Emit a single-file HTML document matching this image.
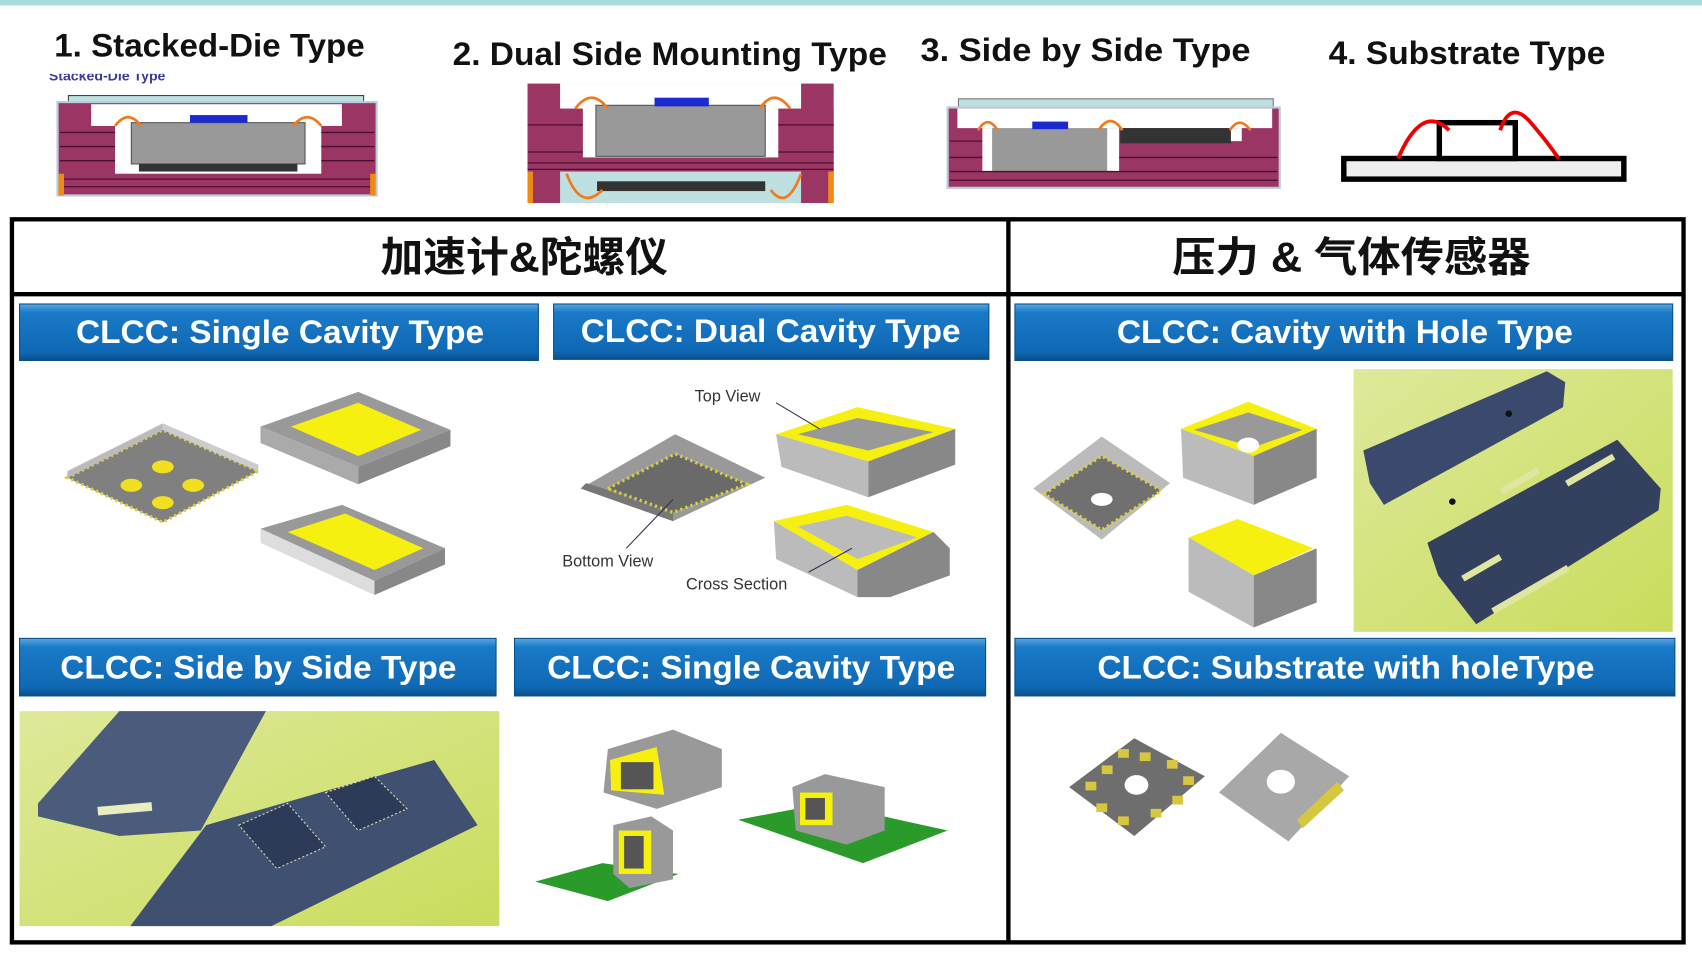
<!DOCTYPE html>
<html><head><meta charset="utf-8"><style>
html,body{margin:0;padding:0;background:#fff;}
svg{display:block;}
text{font-family:"Liberation Sans","Noto Sans CJK SC",sans-serif;}
</style></head><body>
<svg width="1702" height="963" viewBox="0 0 1568 887" preserveAspectRatio="none" xmlns="http://www.w3.org/2000/svg">
<defs>
<linearGradient id="bb" x1="0" y1="0" x2="0" y2="1">
<stop offset="0" stop-color="#5aa8e0"/><stop offset="0.15" stop-color="#1a7ac8"/><stop offset="0.85" stop-color="#0f68b4"/><stop offset="1" stop-color="#0a4f8c"/></linearGradient>
<linearGradient id="photo" x1="0" y1="0" x2="1" y2="1"><stop offset="0" stop-color="#dfe99a"/><stop offset="1" stop-color="#c9dc5c"/></linearGradient>
</defs>
<rect x="0" y="0" width="1568" height="5" fill="#a9dcd8"/>
<!-- titles -->
<g font-weight="bold" font-size="30" fill="#111">
<text x="50" y="52" textLength="286" lengthAdjust="spacingAndGlyphs">1. Stacked-Die Type</text>
<text x="417" y="60" textLength="400" lengthAdjust="spacingAndGlyphs">2. Dual Side Mounting Type</text>
<text x="848" y="56" textLength="304" lengthAdjust="spacingAndGlyphs">3. Side by Side  Type</text>
<text x="1224" y="59" textLength="255" lengthAdjust="spacingAndGlyphs">4. Substrate Type</text>
</g>
<text x="45" y="74" font-size="13" font-weight="bold" fill="#3a3a9a">Stacked-Die Type</text>
<rect x="40" y="62" width="160" height="6" fill="#fff"/>
<!-- schematic 1 -->
<g>
<rect x="63" y="88" width="272" height="6" fill="#bfe0e0" stroke="#444" stroke-width="1"/>
<rect x="53" y="94" width="294" height="86" fill="#9a3564" stroke="#bcd" stroke-width="2"/>
<rect x="84" y="96" width="231" height="20" fill="#fff"/>
<rect x="106" y="114" width="190" height="46" fill="#fff"/>
<g stroke="#4a1030" stroke-width="1.2"><line x1="55" y1="122" x2="106" y2="122"/><line x1="296" y1="122" x2="345" y2="122"/><line x1="55" y1="135" x2="106" y2="135"/><line x1="296" y1="135" x2="345" y2="135"/><line x1="55" y1="148" x2="106" y2="148"/><line x1="296" y1="148" x2="345" y2="148"/><line x1="55" y1="165" x2="345" y2="165"/><line x1="55" y1="172" x2="345" y2="172"/></g>
<rect x="121" y="113" width="160" height="38" fill="#999" stroke="#555"/>
<rect x="128" y="151" width="146" height="7" fill="#333"/>
<rect x="175" y="106" width="53" height="7" fill="#1a2ad0"/>
<rect x="54" y="160" width="5" height="20" fill="#f08a10"/><rect x="341" y="160" width="5" height="20" fill="#f08a10"/>
<path d="M106 116 Q118 100 130 116 M270 116 Q283 100 296 116" stroke="#f07a20" stroke-width="2.5" fill="none"/>
</g>
<!-- schematic 2 -->
<g>
<rect x="486" y="77" width="282" height="110" fill="#bfe0e0"/>
<rect x="510" y="77" width="234" height="25" fill="#fff"/>
<rect x="486" y="77" width="30" height="110" fill="#9a3564"/>
<rect x="738" y="77" width="30" height="110" fill="#9a3564"/>
<rect x="486" y="100" width="282" height="58" fill="#9a3564"/>
<rect x="537" y="95" width="180" height="50" fill="#fff"/>
<rect x="549" y="97" width="156" height="47" fill="#999" stroke="#555"/>
<rect x="603" y="90" width="50" height="8" fill="#1a2ad0"/>
<rect x="550" y="167" width="155" height="9" fill="#333"/>
<g stroke="#4a1030" stroke-width="1.2"><line x1="486" y1="115" x2="537" y2="115"/><line x1="717" y1="115" x2="768" y2="115"/><line x1="486" y1="140" x2="537" y2="140"/><line x1="717" y1="140" x2="768" y2="140"/><line x1="486" y1="150" x2="768" y2="150"/><line x1="486" y1="156" x2="768" y2="156"/></g>
<rect x="486" y="158" width="5" height="29" fill="#f08a10"/><rect x="763" y="158" width="5" height="29" fill="#f08a10"/>
<path d="M530 100 Q545 80 560 100 M700 100 Q713 80 728 100 M522 160 Q535 195 555 175 M710 175 Q725 195 738 160" stroke="#f07a20" stroke-width="2.5" fill="none"/>
</g>
<!-- schematic 3 -->
<g>
<rect x="883" y="91" width="290" height="8" fill="#bfe0e0" stroke="#777"/>
<rect x="873" y="99" width="306" height="74" fill="#9a3564" stroke="#bcd" stroke-width="2"/>
<rect x="882" y="100" width="290" height="18" fill="#fff"/>
<rect x="905" y="118" width="126" height="40" fill="#fff"/>
<rect x="914" y="118" width="106" height="40" fill="#999"/>
<rect x="1032" y="118" width="102" height="14" fill="#333"/>
<rect x="1134" y="118" width="10" height="12" fill="#fff"/>
<rect x="951" y="112" width="33" height="7" fill="#1a2ad0"/>
<g stroke="#4a1030" stroke-width="1.2"><line x1="875" y1="130" x2="905" y2="130"/><line x1="875" y1="145" x2="905" y2="145"/><line x1="1031" y1="145" x2="1177" y2="145"/><line x1="875" y1="158" x2="1177" y2="158"/><line x1="875" y1="166" x2="1177" y2="166"/></g>
<path d="M901 120 Q910 105 919 120 M1012 120 Q1023 103 1034 120 M1133 120 Q1142 106 1152 120" stroke="#f07a20" stroke-width="2.5" fill="none"/>
</g>
<!-- schematic 4 -->
<g>
<rect x="1238" y="146" width="258" height="19" fill="#eee" stroke="#000" stroke-width="5"/>
<rect x="1326" y="113" width="70" height="33" fill="#fff" stroke="#000" stroke-width="5"/>
<path d="M1288 146 Q1310 95 1335 120 M1382 120 Q1392 90 1412 115 Q1425 130 1436 146" stroke="#e00" stroke-width="3.5" fill="none"/>
</g>
<!-- table frame -->
<rect x="11" y="202" width="1540" height="666" fill="none" stroke="#000" stroke-width="4"/>
<line x1="929" y1="202" x2="929" y2="868" stroke="#000" stroke-width="4"/>
<line x1="11" y1="271" x2="1551" y2="271" stroke="#000" stroke-width="4"/>
<text x="483" y="250" font-size="38" text-anchor="middle" fill="#111" font-weight="bold" textLength="265" lengthAdjust="spacingAndGlyphs">加速计&amp;陀螺仪</text>
<text x="1245" y="250" font-size="38" text-anchor="middle" fill="#111" font-weight="bold" textLength="330" lengthAdjust="spacingAndGlyphs">压力 &amp; 气体传感器</text>
<!-- blue bars -->
<g fill="url(#bb)" stroke="#0a4f8c" stroke-width="1">
<rect x="18" y="280" width="478" height="52"/>
<rect x="510" y="280" width="401" height="51"/>
<rect x="935" y="280" width="606" height="52"/>
<rect x="18" y="588" width="439" height="53"/>
<rect x="474" y="588" width="434" height="53"/>
<rect x="935" y="588" width="608" height="53"/>
</g>
<g font-weight="bold" font-size="30" fill="#fff" text-anchor="middle">
<text x="258" y="316" textLength="376" lengthAdjust="spacingAndGlyphs">CLCC: Single Cavity Type</text>
<text x="710" y="315" textLength="350" lengthAdjust="spacingAndGlyphs">CLCC: Dual Cavity Type</text>
<text x="1239" y="316" textLength="420" lengthAdjust="spacingAndGlyphs">CLCC: Cavity with Hole Type</text>
<text x="238" y="625" textLength="365" lengthAdjust="spacingAndGlyphs">CLCC: Side by Side Type</text>
<text x="692" y="625" textLength="376" lengthAdjust="spacingAndGlyphs">CLCC: Single Cavity Type</text>
<text x="1240" y="625" textLength="458" lengthAdjust="spacingAndGlyphs">CLCC: Substrate with holeType</text>
</g>
<!-- single cavity packages -->
<g>
<polygon points="62,440 150,396 238,434 150,481" fill="#808080" stroke="#e0d040" stroke-width="3" stroke-dasharray="2 3"/>
<polygon points="62,440 150,396 150,390 62,434" fill="#bbb"/>
<polygon points="150,396 238,434 238,428 150,390" fill="#ccc"/>
<ellipse cx="150" cy="430" rx="10" ry="6" fill="#f0e020"/><ellipse cx="121" cy="447" rx="10" ry="6" fill="#f0e020"/><ellipse cx="178" cy="447" rx="10" ry="6" fill="#f0e020"/><ellipse cx="150" cy="463" rx="10" ry="6" fill="#f0e020"/>
<polygon points="240,393 330,361 415,396 330,430" fill="#999"/>
<polygon points="240,393 330,430 330,446 240,408" fill="#aaa"/>
<polygon points="330,430 415,396 415,411 330,446" fill="#888"/>
<polygon points="268,393 330,371 388,396 330,420" fill="#f5f010"/>
<polygon points="240,487 315,465 410,505 345,535" fill="#999"/>
<polygon points="240,487 345,535 345,548 240,500" fill="#ddd"/>
<polygon points="345,535 410,505 410,520 345,548" fill="#888"/>
<polygon points="265,490 318,473 390,505 345,525" fill="#f5f010"/>
</g>
<!-- dual cavity -->
<g>
<polygon points="535,450 622,400 705,440 620,480" fill="#999"/>
<polygon points="535,450 620,480 620,470 540,445" fill="#777"/>
<polygon points="560,450 622,418 688,446 620,472" fill="#6a6a6a" stroke="#e0d040" stroke-width="3" stroke-dasharray="2 3"/>
<polygon points="715,400 790,375 880,395 800,425" fill="#f5f010"/>
<polygon points="735,400 790,385 860,398 800,415" fill="#999"/>
<polygon points="715,400 800,425 800,458 720,430" fill="#bbb"/>
<polygon points="800,425 880,395 880,428 800,458" fill="#888"/>
<polygon points="713,480 780,465 860,490 790,525" fill="#f5f010"/>
<polygon points="735,485 780,475 845,495 790,515" fill="#bbb"/>
<polygon points="713,480 790,525 790,550 715,515" fill="#bbb"/>
<polygon points="790,525 860,490 875,505 875,530 820,550 790,550" fill="#888"/>
<g font-size="15" fill="#333" font-family="Liberation Sans"><text x="640" y="370">Top  View</text><text x="518" y="522">Bottom  View</text><text x="632" y="543">Cross  Section</text></g>
<g stroke="#335" stroke-width="1"><line x1="715" y1="371" x2="755" y2="395"/><line x1="577" y1="505" x2="620" y2="460"/><line x1="745" y1="527" x2="785" y2="505"/></g>
</g>
<!-- cavity with hole -->
<g>
<polygon points="952,450 1015,402 1078,445 1015,497" fill="#bbb"/>
<polygon points="962,455 1015,420 1070,452 1015,488" fill="#707070" stroke="#e0d040" stroke-width="3" stroke-dasharray="2 3"/>
<ellipse cx="1015" cy="460" rx="10" ry="6" fill="#fff"/>
<polygon points="1088,395 1150,370 1213,395 1155,420" fill="#f5f010"/>
<polygon points="1100,396 1150,380 1200,396 1155,412" fill="#999"/>
<ellipse cx="1150" cy="410" rx="10" ry="7" fill="#fff"/>
<polygon points="1088,395 1155,420 1155,465 1090,440" fill="#bbb"/>
<polygon points="1155,420 1213,395 1213,440 1155,465" fill="#888"/>
<polygon points="1095,495 1140,478 1210,505 1155,530" fill="#f5f010"/>
<polygon points="1095,495 1155,530 1155,578 1095,545" fill="#bbb"/>
<polygon points="1155,530 1213,505 1213,555 1155,578" fill="#888"/>
<rect x="1247" y="340" width="294" height="242" fill="url(#photo)"/>
<polygon points="1256,415 1425,342 1442,352 1440,375 1275,465 1262,445" fill="#3b4a6c"/>
<polygon points="1315,500 1490,405 1530,450 1528,470 1360,575 1325,530" fill="#33415f"/>
<g fill="#e0e6a0"><rect x="1380" y="440" width="40" height="6" transform="rotate(-30 1400 443)"/><rect x="1440" y="430" width="50" height="6" transform="rotate(-30 1465 433)"/><rect x="1370" y="540" width="80" height="6" transform="rotate(-30 1410 543)"/><rect x="1345" y="520" width="40" height="6" transform="rotate(-30 1365 523)"/></g>
<circle cx="1338" cy="462" r="3" fill="#111"/><circle cx="1390" cy="381" r="3" fill="#111"/>
</g>
<!-- side by side photo -->
<g>
<rect x="18" y="655" width="442" height="198" fill="url(#photo)"/>
<polygon points="120,853 190,760 400,700 440,760 250,853" fill="#3f5070"/>
<polygon points="35,740 110,655 245,655 185,765 110,770 35,752" fill="#4a5b7c"/>
<rect x="90" y="741" width="50" height="8" fill="#e8eec0" transform="rotate(-5 115 745)"/>
<polygon points="220,760 265,740 300,780 255,800" fill="#2e3b58" stroke="#d8dcb0" stroke-dasharray="2 2"/>
<polygon points="300,730 345,715 375,745 330,765" fill="#2e3b58" stroke="#d8dcb0" stroke-dasharray="2 2"/>
</g>
<!-- single cavity 3d -->
<g>
<polygon points="493,812 555,795 625,805 560,830" fill="#2a9a2a"/>
<polygon points="680,755 760,740 873,765 795,795" fill="#2a9a2a"/>
<polygon points="565,760 600,752 620,765 620,810 580,818 565,805" fill="#999"/>
<rect x="570" y="765" width="30" height="40" fill="#f5f010"/>
<rect x="575" y="770" width="18" height="30" fill="#555"/>
<polygon points="560,690 620,672 665,690 665,725 605,745 556,730" fill="#999"/>
<polygon points="562,700 605,688 612,732 563,728" fill="#f5f010"/>
<rect x="572" y="702" width="30" height="25" fill="#555"/>
<polygon points="730,725 760,713 815,725 815,765 780,778 733,765" fill="#999"/>
<rect x="737" y="730" width="30" height="30" fill="#f5f010"/><rect x="742" y="735" width="18" height="20" fill="#555"/>
</g>
<!-- substrate with hole -->
<g>
<polygon points="985,725 1045,680 1110,715 1045,770" fill="#6e6e6e"/>
<g fill="#d6c640"><rect x="1030" y="690" width="10" height="8"/><rect x="1050" y="693" width="10" height="8"/><rect x="1075" y="700" width="10" height="8"/><rect x="1000" y="720" width="10" height="8"/><rect x="1090" y="715" width="10" height="8"/><rect x="1010" y="740" width="10" height="8"/><rect x="1030" y="752" width="10" height="8"/><rect x="1060" y="745" width="10" height="8"/><rect x="1080" y="733" width="10" height="8"/><rect x="1015" y="705" width="10" height="8"/></g>
<ellipse cx="1047" cy="723" rx="11" ry="9" fill="#fff"/>
<polygon points="1123,730 1180,675 1243,715 1187,775" fill="#a8a8a8"/>
<ellipse cx="1180" cy="720" rx="13" ry="11" fill="#fff"/>
<polygon points="1195,755 1232,720 1238,728 1200,763" fill="#d6c640"/>
</g>
</svg>
</body></html>
